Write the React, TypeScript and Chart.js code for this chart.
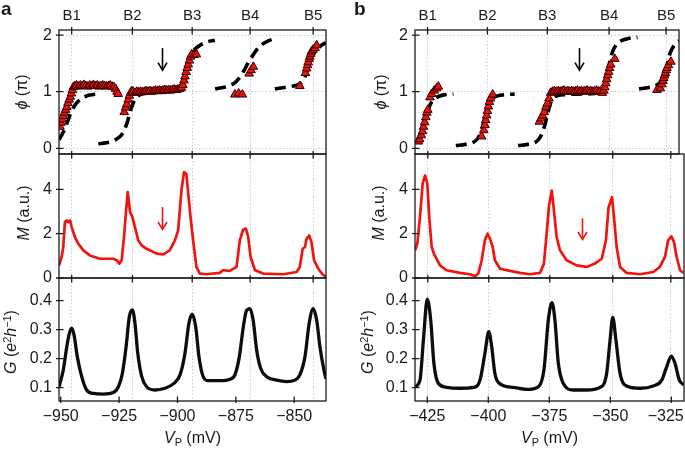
import React, { useEffect, useRef } from 'react';
import { Chart, registerables } from 'chart.js';

Chart.register(...registerables);

const FONT = "'Liberation Sans', Arial, Helvetica, sans-serif";

// ---------- tick labels / categories ----------
const B_LABELS = ['B1', 'B2', 'B3', 'B4', 'B5'];
const B_POS_A = [-945.3, -919.3, -893.7, -868.9, -841.9];
const B_POS_B = [-424.8, -399.8, -374.8, -349.0, -325.2];
const VP_TICKS_A = [-950, -925, -900, -875, -850];
const VP_TICKS_B = [-425, -400, -375, -350, -325];
const PHI_TICKS = [0, 1, 2];
const M_TICKS = [0, 2, 4];
const G_TICKS = [0.1, 0.2, 0.3, 0.4];

// ---------- axis ranges ----------
const VP_RANGE_A = [-950.73, -836.4];
const VP_RANGE_B = [-430.04, -319.8];
const PHI_RANGE = [-0.1, 2.09];
const M_RANGE = [0, 5.6];
const G_RANGE = [0.054, 0.478];

// ---------- arrows [Vp, from, to] ----------
const ARROW_A_PHI = [-906.5, 1.77, 1.38];
const ARROW_A_M = [-906.5, 3.2, 2.19];
const ARROW_B_PHI = [-361.5, 1.77, 1.38];
const ARROW_B_M = [-361.5, 2.7, 1.74];

// ---------- panel a : phase (triangles) ----------
const TRI_A = [
  [-950.3, 0.38], [-949.9, 0.45], [-949.4, 0.51], [-948.9, 0.57], [-948.4, 0.63], [-947.9, 0.68], [-947.4, 0.73],
  [-946.9, 0.8], [-946.4, 0.86], [-945.9, 0.91], [-945.4, 0.97], [-945.0, 1.03], [-944.6, 1.08],
  [-944.0, 1.1], [-943.2, 1.11], [-942.4, 1.09], [-941.6, 1.11], [-940.8, 1.1], [-940.0, 1.12], [-939.2, 1.1],
  [-938.4, 1.09], [-937.6, 1.11], [-936.8, 1.1], [-936.0, 1.12], [-935.2, 1.1], [-934.4, 1.11], [-933.6, 1.09],
  [-932.8, 1.1], [-932.0, 1.11], [-931.2, 1.1], [-930.4, 1.09], [-929.6, 1.1], [-928.8, 1.11], [-928.0, 1.09],
  [-927.2, 1.08], [-926.5, 1.05], [-925.9, 1.0], [-925.4, 0.96],
  [-922.8, 0.64], [-922.2, 0.72], [-921.7, 0.78], [-921.1, 0.86], [-920.6, 0.93], [-920.1, 0.98], [-919.6, 1.01],
  [-919.0, 1.0], [-918.2, 0.98], [-917.4, 1.0], [-916.6, 0.99], [-915.8, 1.0], [-915.0, 0.99], [-914.2, 1.0],
  [-913.4, 1.01], [-912.6, 1.0], [-911.8, 1.01], [-911.0, 1.0], [-910.2, 1.01], [-909.4, 1.02], [-908.6, 1.01],
  [-907.8, 1.02], [-907.0, 1.01], [-906.2, 1.02], [-905.4, 1.03], [-904.6, 1.02], [-903.8, 1.03], [-903.0, 1.02],
  [-902.2, 1.03], [-901.4, 1.04], [-900.6, 1.03], [-899.8, 1.04], [-899.0, 1.05], [-898.3, 1.07],
  [-897.7, 1.12], [-897.2, 1.2], [-896.8, 1.27], [-896.3, 1.35], [-895.8, 1.42], [-895.4, 1.48], [-894.9, 1.55],
  [-894.4, 1.62], [-893.9, 1.66], [-892.9, 1.65], [-891.9, 1.66],
  [-875.4, 0.95], [-873.8, 0.97], [-872.2, 0.95], [-869.3, 1.32], [-868.5, 1.38], [-867.5, 1.44],
  [-847.6, 1.1], [-845.2, 1.33], [-844.7, 1.41], [-844.3, 1.47], [-844.0, 1.52], [-843.6, 1.58], [-843.3, 1.62],
  [-842.9, 1.67], [-842.6, 1.71], [-842.0, 1.74], [-841.1, 1.77], [-840.4, 1.82],
];
const FIT_A1 = [
  [-950.7, 0.15], [-949.5, 0.24], [-948.2, 0.35], [-947.0, 0.48], [-946.0, 0.59], [-945.0, 0.68], [-943.9, 0.76],
  [-942.5, 0.83], [-941.0, 0.88], [-939.2, 0.92], [-937.5, 0.94], [-934.3, 0.96],
];
const FIT_A2 = [
  [-933.9, 0.08], [-930.5, 0.1], [-927.5, 0.13], [-925.5, 0.18], [-923.9, 0.24], [-922.6, 0.34], [-921.5, 0.46],
  [-920.6, 0.6], [-919.7, 0.72], [-918.5, 0.84], [-917.0, 0.92], [-914.5, 0.97], [-910.0, 0.99], [-905.0, 1.0],
  [-901.0, 1.01], [-899.0, 1.04], [-897.8, 1.12], [-896.8, 1.25], [-895.8, 1.42], [-894.8, 1.57], [-893.6, 1.68],
  [-892.0, 1.77], [-890.0, 1.83], [-887.5, 1.88], [-884.0, 1.91],
];
const FIT_A3 = [
  [-883.9, 1.05], [-881.0, 1.07], [-878.9, 1.09], [-876.9, 1.12], [-875.4, 1.16], [-874.0, 1.22], [-872.5, 1.3],
  [-871.4, 1.38], [-870.4, 1.46], [-869.3, 1.54], [-868.2, 1.61], [-866.1, 1.74], [-863.3, 1.85], [-861.0, 1.9],
  [-859.0, 1.93],
];
const FIT_A4 = [
  [-858.3, 1.05], [-855.0, 1.07], [-851.8, 1.09], [-849.5, 1.11], [-847.6, 1.14], [-846.3, 1.19], [-845.4, 1.26],
  [-844.6, 1.36], [-844.0, 1.45], [-843.3, 1.55], [-842.6, 1.62], [-841.5, 1.7], [-840.4, 1.75], [-838.3, 1.82],
  [-836.4, 1.87],
];

// ---------- panel a : M and G ----------
const M_A = [
  [-950.7, 0.57], [-949.6, 0.95], [-948.9, 1.4], [-948.2, 2.53], [-947.4, 2.6], [-946.7, 2.53], [-946.0, 2.6],
  [-945.3, 2.3], [-943.9, 1.85], [-942.5, 1.55], [-940.3, 1.25], [-937.5, 1.02], [-933.2, 0.87], [-927.5, 0.87],
  [-926.0, 0.8], [-924.9, 0.65], [-923.9, 0.8], [-922.9, 1.85], [-922.0, 3.05], [-921.3, 3.88], [-920.3, 2.98],
  [-919.3, 2.75], [-918.2, 2.3], [-916.8, 1.7], [-915.3, 1.47], [-913.2, 1.32], [-908.9, 1.1], [-906.1, 1.07],
  [-903.3, 1.25], [-901.1, 1.7], [-899.7, 2.15], [-898.3, 3.95], [-897.2, 4.78], [-896.2, 4.7], [-895.5, 3.95],
  [-894.4, 2.75], [-893.3, 1.7], [-891.9, 0.5], [-890.4, 0.2], [-887.6, 0.17], [-881.9, 0.23], [-880.5, 0.35],
  [-877.6, 0.32], [-874.7, 0.5], [-873.3, 1.7], [-871.9, 2.18], [-870.7, 2.23], [-869.7, 1.85], [-868.7, 0.95],
  [-866.8, 0.35], [-863.3, 0.2], [-854.7, 0.17], [-849.0, 0.27], [-847.6, 0.5], [-846.4, 1.32], [-845.4, 1.4],
  [-844.7, 1.77], [-843.6, 1.92], [-842.6, 1.62], [-841.5, 0.8], [-839.7, 0.42], [-837.9, 0.17], [-836.5, 0.05],
];
const G_A = [
  [-950.7, 0.103], [-948.9, 0.161], [-947.4, 0.241], [-946.3, 0.287], [-945.3, 0.305], [-944.3, 0.282],
  [-942.9, 0.207], [-941.0, 0.138], [-938.9, 0.092], [-936.0, 0.08], [-931.8, 0.078], [-927.5, 0.083],
  [-925.3, 0.103], [-923.6, 0.149], [-922.0, 0.241], [-920.6, 0.345], [-919.3, 0.368], [-918.2, 0.322],
  [-917.0, 0.218], [-915.3, 0.138], [-913.2, 0.103], [-909.6, 0.092], [-905.4, 0.098], [-901.8, 0.113],
  [-898.9, 0.144], [-896.8, 0.218], [-895.1, 0.322], [-893.7, 0.353], [-892.2, 0.31], [-890.8, 0.207],
  [-889.0, 0.138], [-886.8, 0.124], [-881.8, 0.124], [-877.5, 0.129], [-875.4, 0.144], [-873.5, 0.207],
  [-871.8, 0.31], [-870.4, 0.366], [-869.0, 0.372], [-867.6, 0.333], [-866.1, 0.23], [-864.4, 0.167],
  [-861.8, 0.138], [-857.5, 0.126], [-853.3, 0.121], [-849.7, 0.126], [-847.6, 0.144], [-845.4, 0.207],
  [-843.6, 0.322], [-841.9, 0.372], [-840.4, 0.333], [-839.0, 0.241], [-837.3, 0.161], [-836.4, 0.13],
];

// ---------- panel b : phase ----------
const TRI_B = [
  [-428.6, 0.12], [-428.1, 0.16], [-427.4, 0.23], [-426.9, 0.3], [-426.5, 0.38], [-426.0, 0.46], [-425.5, 0.55],
  [-425.1, 0.63], [-424.7, 0.68], [-423.8, 0.9], [-423.1, 0.96], [-422.0, 1.02], [-421.0, 1.06], [-420.3, 1.09],
  [-402.2, 0.21], [-401.3, 0.32], [-400.8, 0.41], [-400.5, 0.5], [-400.1, 0.58], [-399.8, 0.66], [-399.4, 0.74],
  [-399.0, 0.82], [-398.5, 0.88], [-397.6, 0.95],
  [-378.1, 0.47], [-377.4, 0.53], [-376.8, 0.58], [-376.1, 0.64], [-375.4, 0.73], [-374.8, 0.79], [-374.1, 0.88],
  [-373.4, 0.98],
  [-372.6, 1.0], [-371.8, 1.01], [-371.0, 1.0], [-370.2, 1.01], [-369.4, 1.0], [-368.6, 1.01], [-367.8, 1.02],
  [-367.0, 1.0], [-366.2, 1.01], [-365.4, 1.0], [-364.6, 1.01], [-363.8, 1.0], [-363.0, 1.01], [-362.2, 1.02],
  [-361.4, 1.0], [-360.6, 1.01], [-359.8, 1.0], [-359.0, 1.01], [-358.2, 1.02], [-357.4, 1.0], [-356.6, 1.01],
  [-355.8, 1.0], [-355.0, 1.01], [-354.2, 1.02], [-353.4, 1.0], [-352.6, 1.01], [-351.8, 0.98],
  [-351.2, 1.02], [-350.8, 1.08], [-350.4, 1.15], [-350.0, 1.22], [-349.6, 1.29], [-349.2, 1.35], [-348.8, 1.42],
  [-348.3, 1.48], [-346.6, 1.58],
  [-329.0, 1.03], [-327.6, 1.06], [-326.9, 1.13], [-326.5, 1.19], [-326.2, 1.24], [-325.8, 1.29], [-325.5, 1.33],
  [-325.1, 1.38], [-324.8, 1.42], [-324.2, 1.47], [-323.2, 1.53],
];
const FIT_B1 = [
  [-430.0, 0.09], [-429.0, 0.15], [-428.0, 0.24], [-427.0, 0.36], [-426.0, 0.5], [-425.3, 0.59], [-424.5, 0.68],
  [-423.9, 0.75], [-422.8, 0.84], [-421.8, 0.88], [-420.0, 0.92], [-418.4, 0.94], [-414.0, 0.96],
];
const FIT_B2 = [
  [-413.0, 0.05], [-409.0, 0.07], [-406.0, 0.1], [-404.1, 0.16], [-402.7, 0.27], [-401.6, 0.42], [-400.6, 0.58],
  [-399.6, 0.72], [-398.6, 0.83], [-397.0, 0.9], [-394.0, 0.94], [-388.4, 0.96],
];
const FIT_B3 = [
  [-387.0, 0.05], [-383.0, 0.07], [-380.0, 0.1], [-378.4, 0.16], [-376.8, 0.28], [-375.6, 0.45], [-374.6, 0.62],
  [-373.6, 0.78], [-372.5, 0.88], [-370.5, 0.93], [-367.0, 0.95], [-360.0, 0.96], [-355.0, 0.97], [-352.5, 1.0],
  [-351.2, 1.1], [-350.2, 1.25], [-349.3, 1.42], [-348.4, 1.58], [-347.4, 1.72], [-345.8, 1.84], [-344.0, 1.9],
  [-341.0, 1.94], [-337.1, 1.96],
];
const FIT_B4 = [
  [-336.5, 1.05], [-333.0, 1.07], [-330.0, 1.1], [-328.3, 1.14], [-327.2, 1.2], [-326.2, 1.28], [-325.4, 1.38],
  [-324.8, 1.47], [-324.2, 1.58], [-323.5, 1.68], [-322.8, 1.75], [-321.8, 1.82], [-320.8, 1.87], [-319.8, 1.9],
];

// ---------- panel b : M and G ----------
const M_B = [
  [-430.0, 1.25], [-429.1, 1.55], [-428.0, 2.75], [-426.9, 4.26], [-425.9, 4.63], [-425.0, 4.26], [-424.2, 2.75],
  [-423.2, 1.4], [-422.3, 1.1], [-419.8, 0.57], [-417.1, 0.35], [-411.6, 0.23], [-407.5, 0.17], [-405.4, 0.08],
  [-404.1, 0.2], [-402.7, 0.8], [-401.4, 1.7], [-400.3, 2.0], [-399.3, 1.77], [-398.2, 1.4], [-397.3, 0.8],
  [-395.2, 0.42], [-391.1, 0.32], [-387.0, 0.23], [-382.9, 0.17], [-378.8, 0.23], [-377.2, 0.65], [-376.1, 2.0],
  [-375.1, 3.28], [-374.0, 3.95], [-373.1, 3.05], [-372.0, 1.85], [-370.6, 1.25], [-367.9, 0.8], [-363.8, 0.57],
  [-359.7, 0.5], [-356.3, 0.65], [-353.5, 0.87], [-351.8, 1.7], [-350.7, 3.2], [-349.3, 3.65], [-348.5, 2.75],
  [-347.4, 1.4], [-346.0, 0.5], [-343.3, 0.23], [-337.8, 0.17], [-332.4, 0.27], [-329.7, 0.5], [-327.6, 0.95],
  [-326.3, 1.7], [-325.0, 1.88], [-323.9, 1.62], [-322.8, 0.95], [-321.4, 0.35], [-320.1, 0.23],
];
const G_B = [
  [-430.0, 0.103], [-428.0, 0.126], [-426.6, 0.264], [-425.0, 0.405], [-423.6, 0.333], [-422.3, 0.184],
  [-420.5, 0.115], [-417.1, 0.101], [-411.6, 0.098], [-406.1, 0.101], [-403.4, 0.126], [-401.4, 0.218],
  [-399.8, 0.293], [-398.6, 0.241], [-397.3, 0.149], [-395.2, 0.113], [-389.8, 0.101], [-384.3, 0.094],
  [-379.5, 0.103], [-377.2, 0.161], [-375.4, 0.333], [-373.9, 0.393], [-372.7, 0.333], [-371.3, 0.184],
  [-369.3, 0.115], [-365.2, 0.092], [-359.7, 0.092], [-354.2, 0.101], [-351.5, 0.149], [-350.1, 0.264],
  [-349.0, 0.342], [-347.7, 0.264], [-346.0, 0.149], [-343.3, 0.106], [-337.8, 0.098], [-332.4, 0.106],
  [-328.9, 0.126], [-326.9, 0.172], [-325.0, 0.209], [-323.5, 0.184], [-321.7, 0.126], [-319.8, 0.109],
];

// ---------- helpers ----------
const toXY = (arr: number[][]) => arr.map(([x, y]) => ({ x, y }));
const fmtVp = (v: number, last: boolean) =>
  (v < 0 ? '\u2212' + Math.abs(v) : String(v)) + (last ? '\u2002\u2009' : '');

const H = 449;
const GRID_COLOR = '#bfbfbf';
const TEXT_COLOR = '#1a1a1a';

type Kind = 'phi' | 'm' | 'g';
interface Spec {
  kind: Kind;
  width: number;
  L: number;
  R: number;
  xRange: number[];
  bPos: number[];
  vpTicks: number[];
  datasets: any[];
  arrow?: number[];
  arrowColor?: string;
  shiftLast?: boolean;
}

const ROW: Record<Kind, [number, number]> = { phi: [30, 154], m: [154, 278], g: [278, 401] };

function makeFrame(spec: Spec, yTicks: number[]) {
  return {
    id: 'frame',
    afterDraw(chart: any) {
      const { ctx, chartArea: a } = chart;
      const xs = chart.scales.x;
      const ys = chart.scales.y;
      ctx.save();
      if (spec.arrow) {
        const px = Math.round(xs.getPixelForValue(spec.arrow[0])) + 0.5;
        const p0 = ys.getPixelForValue(spec.arrow[1]);
        const p1 = ys.getPixelForValue(spec.arrow[2]);
        ctx.strokeStyle = spec.arrowColor || '#000';
        ctx.lineWidth = 1.6;
        ctx.beginPath();
        ctx.moveTo(px, p0);
        ctx.lineTo(px, p1 - 0.6);
        ctx.stroke();
        ctx.beginPath();
        ctx.moveTo(px - 4.5, p1 - 7.5);
        ctx.lineTo(px, p1);
        ctx.lineTo(px + 4.5, p1 - 7.5);
        ctx.stroke();
      }
      ctx.strokeStyle = '#1c1c1c';
      ctx.lineWidth = 1.3;
      ctx.strokeRect(a.left, a.top, a.right - a.left, a.bottom - a.top);
      ctx.beginPath();
      for (const v of spec.bPos) {
        const px = xs.getPixelForValue(v);
        ctx.moveTo(px, a.top - 3);
        ctx.lineTo(px, a.top + 4.5);
      }
      for (const v of yTicks) {
        const py = ys.getPixelForValue(v);
        ctx.moveTo(a.left - 3, py);
        ctx.lineTo(a.left + 4.5, py);
      }
      if (spec.kind === 'g') {
        for (const v of spec.vpTicks) {
          const px = xs.getPixelForValue(v);
          ctx.moveTo(px, a.bottom + 2);
          ctx.lineTo(px, a.bottom - 4.5);
        }
      }
      ctx.stroke();
      ctx.restore();
    },
  };
}

function buildConfig(spec: Spec): any {
  const [top, bottom] = ROW[spec.kind];
  const yRange = spec.kind === 'phi' ? PHI_RANGE : spec.kind === 'm' ? M_RANGE : G_RANGE;
  const yTicks = spec.kind === 'phi' ? PHI_TICKS : spec.kind === 'm' ? M_TICKS : G_TICKS;
  const yFmt = (v: number) => (spec.kind === 'g' ? v.toFixed(1) : String(v));
  const tickFont = { family: FONT, size: 16 };
  const dotted = { display: false, dash: [1.5, 2] };

  const bTickBuilder = (s: any) => {
    s.ticks = spec.bPos.map((v) => ({ value: v }));
  };

  const scales: any = {
    y: {
      type: 'linear',
      position: 'left',
      min: yRange[0],
      max: yRange[1],
      afterBuildTicks: (s: any) => {
        s.ticks = yTicks.map((v) => ({ value: v }));
      },
      afterFit: (s: any) => {
        s.width = spec.L;
        s.paddingTop = 0;
        s.paddingBottom = 0;
      },
      grid: { display: spec.kind === 'phi', drawTicks: false, color: GRID_COLOR, lineWidth: 0.8 },
      border: dotted,
      ticks: {
        padding: 7,
        color: TEXT_COLOR,
        font: tickFont,
        autoSkip: false,
        callback: (v: any) => yFmt(Number(v)),
      },
    },
  };

  const xBase = { type: 'linear', min: spec.xRange[0], max: spec.xRange[1] };
  if (spec.kind === 'phi') {
    scales.x = {
      ...xBase,
      position: 'top',
      afterBuildTicks: bTickBuilder,
      afterFit: (s: any) => {
        s.height = top;
        s.paddingLeft = 0;
        s.paddingRight = 0;
      },
      grid: { display: true, drawTicks: false, color: GRID_COLOR, lineWidth: 0.8 },
      border: dotted,
      ticks: {
        padding: 5,
        autoSkip: false,
        maxRotation: 0,
        minRotation: 0,
        color: TEXT_COLOR,
        font: { family: FONT, size: 15 },
        callback: (_v: any, i: number) => B_LABELS[i],
      },
    };
  } else if (spec.kind === 'm') {
    scales.x = {
      ...xBase,
      position: 'bottom',
      afterBuildTicks: bTickBuilder,
      afterFit: (s: any) => {
        s.height = 0;
        s.paddingLeft = 0;
        s.paddingRight = 0;
      },
      grid: { display: true, drawTicks: false, color: GRID_COLOR, lineWidth: 0.8 },
      border: dotted,
      ticks: { display: false },
    };
  } else {
    scales.x = {
      ...xBase,
      position: 'bottom',
      afterBuildTicks: (s: any) => {
        s.ticks = spec.vpTicks.map((v) => ({ value: v }));
      },
      afterFit: (s: any) => {
        s.height = H - bottom;
        s.paddingLeft = 0;
        s.paddingRight = 0;
      },
      grid: { display: false, drawTicks: false },
      border: { display: false },
      ticks: {
        padding: 6,
        autoSkip: false,
        maxRotation: 0,
        minRotation: 0,
        color: TEXT_COLOR,
        font: tickFont,
        callback: (v: any, i: number) => fmtVp(Number(v), !!spec.shiftLast && i === spec.vpTicks.length - 1),
      },
    };
    scales.xB = {
      ...xBase,
      position: 'top',
      afterBuildTicks: bTickBuilder,
      afterFit: (s: any) => {
        s.height = 0;
        s.paddingLeft = 0;
        s.paddingRight = 0;
      },
      grid: { display: true, drawTicks: false, color: GRID_COLOR, lineWidth: 0.8 },
      border: dotted,
      ticks: { display: false },
    };
  }

  const padding =
    spec.kind === 'phi'
      ? { top: 0, bottom: H - bottom, left: 0, right: spec.width - spec.R }
      : spec.kind === 'm'
      ? { top, bottom: H - bottom, left: 0, right: spec.width - spec.R }
      : { top, bottom: 0, left: 0, right: spec.width - spec.R };

  return {
    type: 'line',
    data: { datasets: spec.datasets },
    options: {
      responsive: false,
      maintainAspectRatio: false,
      animation: false,
      events: [],
      devicePixelRatio: 1,
      layout: { padding },
      scales,
      plugins: { legend: { display: false }, tooltip: { enabled: false } },
    },
    plugins: [makeFrame(spec, yTicks)],
  };
}

const triSet = (arr: number[][]) => ({
  data: toXY(arr),
  xAxisID: 'x',
  yAxisID: 'y',
  showLine: false,
  pointStyle: 'triangle',
  pointRadius: 5,
  pointBackgroundColor: '#e3150e',
  pointBorderColor: '#3a0000',
  pointBorderWidth: 1,
  borderColor: '#3a0000',
  backgroundColor: '#e3150e',
});
const fitSet = (arr: number[][]) => ({
  data: toXY(arr),
  xAxisID: 'x',
  yAxisID: 'y',
  borderColor: '#000',
  borderWidth: 3.6,
  borderDash: [11, 6],
  borderCapStyle: 'butt',
  cubicInterpolationMode: 'monotone',
  pointRadius: 0,
  fill: false,
});
const mSet = (arr: number[][]) => ({
  data: toXY(arr),
  xAxisID: 'x',
  yAxisID: 'y',
  borderColor: '#f0140f',
  borderWidth: 2.7,
  tension: 0,
  pointRadius: 0,
  fill: false,
  borderJoinStyle: 'round',
});
const gSet = (arr: number[][]) => ({
  data: toXY(arr),
  xAxisID: 'x',
  yAxisID: 'y',
  borderColor: '#0d0d0d',
  borderWidth: 3.3,
  cubicInterpolationMode: 'monotone',
  pointRadius: 0,
  fill: false,
  borderJoinStyle: 'round',
});

const COL_A = { left: 0, width: 342, L: 59, R: 326 };
const COL_B = { left: 342, width: 343, L: 73, R: 342 };

function ChartCanvas({ left, width, spec }: { left: number; width: number; spec: Spec }) {
  const ref = useRef<HTMLCanvasElement | null>(null);
  useEffect(() => {
    if (!ref.current) return;
    const chart = new Chart(ref.current, buildConfig(spec));
    return () => chart.destroy();
  }, []);
  return (
    <canvas
      ref={ref}
      width={width}
      height={H}
      style={{ position: 'absolute', left, top: 0, width, height: H }}
    />
  );
}

const txt: React.CSSProperties = {
  position: 'absolute',
  whiteSpace: 'nowrap',
  fontFamily: FONT,
  fontSize: 16,
  color: TEXT_COLOR,
  lineHeight: 1,
};
const vTitle = (cx: number, cy: number): React.CSSProperties => ({
  ...txt,
  left: cx,
  top: cy,
  transform: 'translate(-50%, -50%) rotate(-90deg)',
});
const hTitle = (cx: number, cy: number): React.CSSProperties => ({
  ...txt,
  left: cx,
  top: cy,
  transform: 'translate(-50%, -50%)',
});
const sup: React.CSSProperties = { fontSize: '0.68em', position: 'relative', top: '-0.5em' };
const sub: React.CSSProperties = { fontSize: '0.68em', position: 'relative', top: '0.3em' };

function Titles({ x0, phiX, mX, gX, cx }: { x0: number; phiX: number; mX: number; gX: number; cx: number }) {
  return (
    <>
      <div style={vTitle(x0 + phiX, 92)}>
        <i>ϕ</i> (π)
      </div>
      <div style={vTitle(x0 + mX, 213)}>
        <i>M</i> (a.u.)
      </div>
      <div style={vTitle(x0 + gX, 342)}>
        <i>G</i> (<i>e</i>
        <span style={sup}>2</span>
        <i>h</i>
        <span style={sup}>−1</span>)
      </div>
      <div style={hTitle(cx, 438)}>
        <i>V</i>
        <span style={sub}>P</span> (mV)
      </div>
    </>
  );
}

export default function App() {
  const specsA: Spec[] = [
    {
      kind: 'phi', width: COL_A.width, L: COL_A.L, R: COL_A.R, xRange: VP_RANGE_A, bPos: B_POS_A, vpTicks: VP_TICKS_A,
      datasets: [triSet(TRI_A), fitSet(FIT_A1), fitSet(FIT_A2), fitSet(FIT_A3), fitSet(FIT_A4)],
      arrow: ARROW_A_PHI, arrowColor: '#000',
    },
    {
      kind: 'm', width: COL_A.width, L: COL_A.L, R: COL_A.R, xRange: VP_RANGE_A, bPos: B_POS_A, vpTicks: VP_TICKS_A,
      datasets: [mSet(M_A)], arrow: ARROW_A_M, arrowColor: '#f0140f',
    },
    {
      kind: 'g', width: COL_A.width, L: COL_A.L, R: COL_A.R, xRange: VP_RANGE_A, bPos: B_POS_A, vpTicks: VP_TICKS_A,
      datasets: [gSet(G_A)],
    },
  ];
  const specsB: Spec[] = [
    {
      kind: 'phi', width: COL_B.width, L: COL_B.L, R: COL_B.R, xRange: VP_RANGE_B, bPos: B_POS_B, vpTicks: VP_TICKS_B,
      datasets: [triSet(TRI_B), fitSet(FIT_B1), fitSet(FIT_B2), fitSet(FIT_B3), fitSet(FIT_B4)],
      arrow: ARROW_B_PHI, arrowColor: '#000',
    },
    {
      kind: 'm', width: COL_B.width, L: COL_B.L, R: COL_B.R, xRange: VP_RANGE_B, bPos: B_POS_B, vpTicks: VP_TICKS_B,
      datasets: [mSet(M_B)], arrow: ARROW_B_M, arrowColor: '#f0140f',
    },
    {
      kind: 'g', width: COL_B.width, L: COL_B.L, R: COL_B.R, xRange: VP_RANGE_B, bPos: B_POS_B, vpTicks: VP_TICKS_B,
      datasets: [gSet(G_B)], shiftLast: true,
    },
  ];

  return (
    <div style={{ position: 'absolute', left: 0, top: 0, width: 685, height: 449, background: '#fff', overflow: 'hidden' }}>
      {specsA.map((s, i) => (
        <ChartCanvas key={'a' + i} left={COL_A.left} width={COL_A.width} spec={s} />
      ))}
      {specsB.map((s, i) => (
        <ChartCanvas key={'b' + i} left={COL_B.left} width={COL_B.width} spec={s} />
      ))}
      <Titles x0={0} phiX={22} mX={24} gX={11} cx={(COL_A.L + COL_A.R) / 2} />
      <Titles x0={342} phiX={39} mX={37} gX={26} cx={342 + (COL_B.L + COL_B.R) / 2} />
      <div style={{ ...txt, left: 1, top: -1, fontSize: 19, fontWeight: 'bold' }}>a</div>
      <div style={{ ...txt, left: 354, top: -1, fontSize: 19, fontWeight: 'bold' }}>b</div>
    </div>
  );
}
